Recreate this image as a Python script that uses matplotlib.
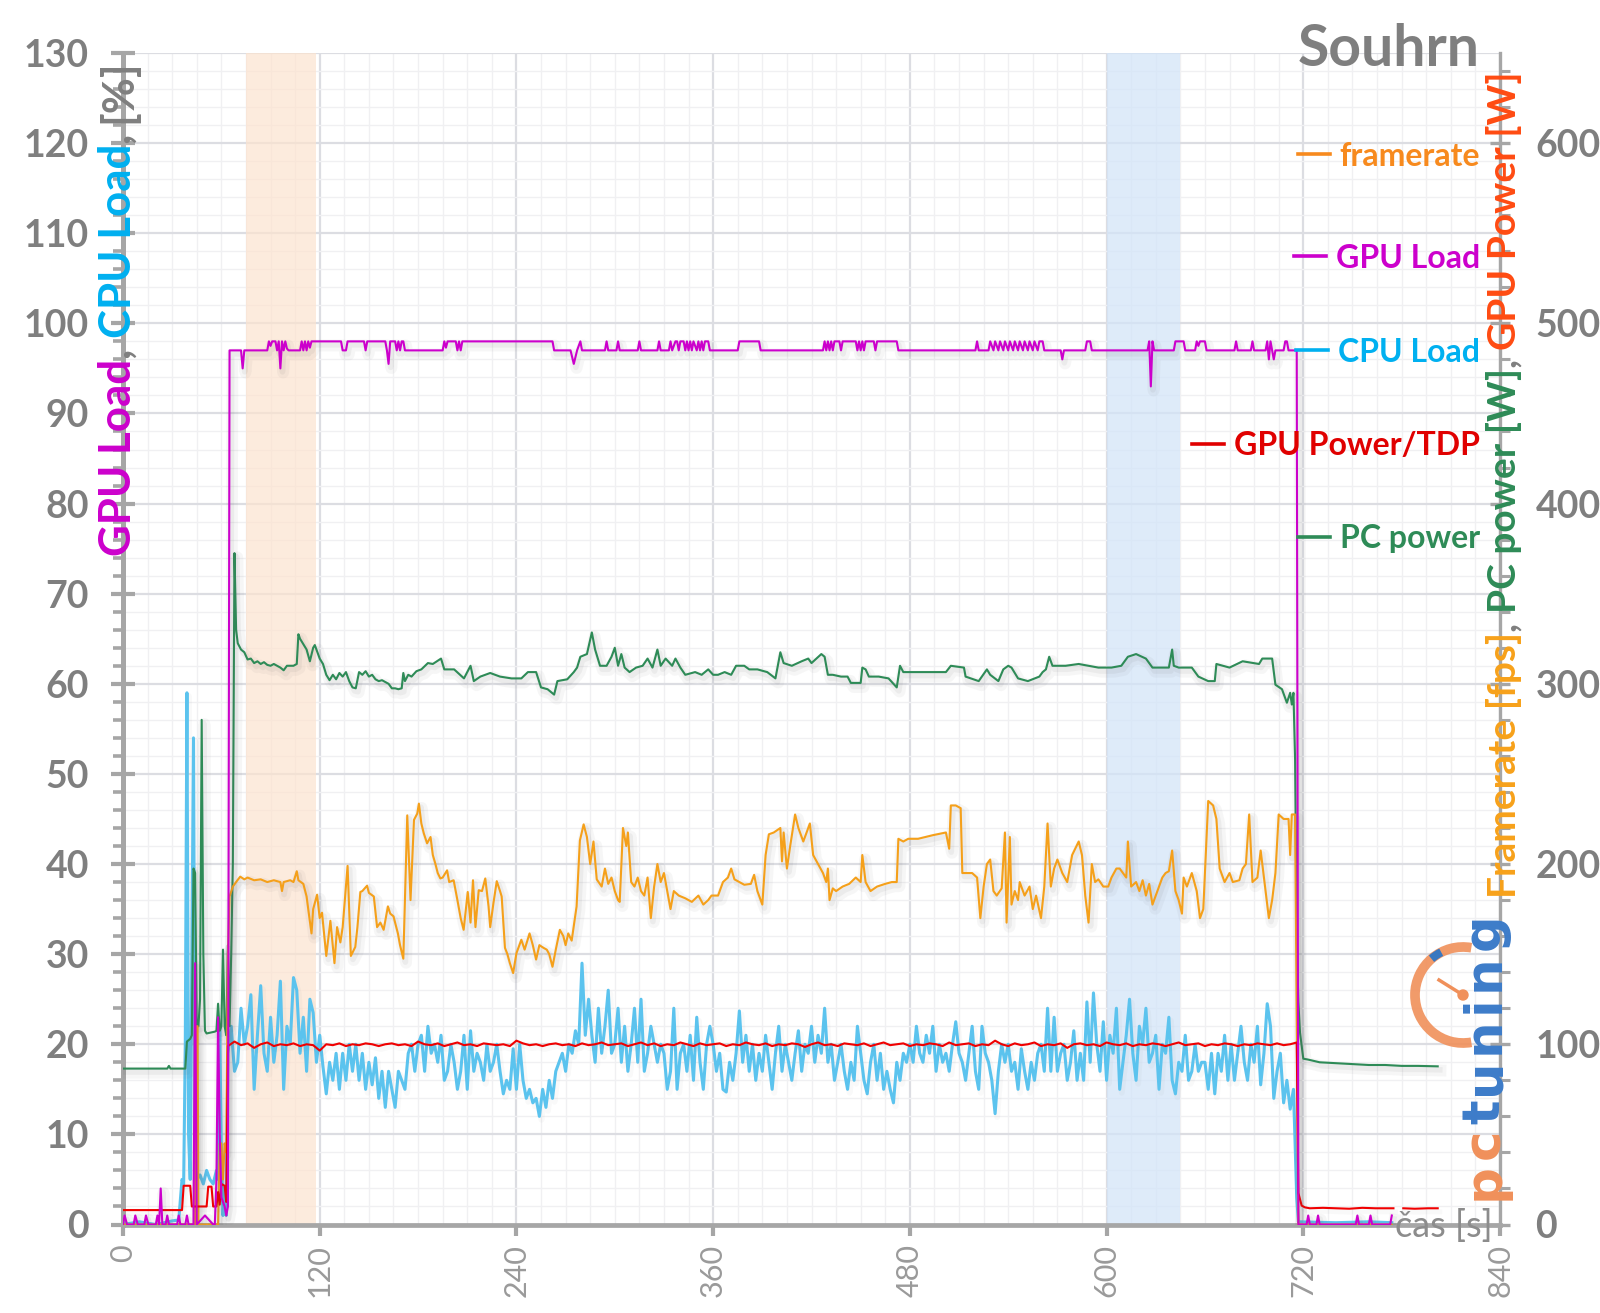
import numpy as np
import matplotlib
matplotlib.use("Agg")
import matplotlib.pyplot as plt
import matplotlib.patheffects as pe
from matplotlib.ticker import MultipleLocator
from matplotlib.lines import Line2D
from matplotlib.patches import Arc, Circle
from matplotlib.transforms import IdentityTransform

plt.rcParams['font.family'] = ['Lato', 'DejaVu Sans']

# ---------------- data (left-axis scale; right axis = 5x) ----------------
x_ticks = [0, 120, 240, 360, 480, 600, 720, 840]
y_left_ticks = list(range(0, 131, 10))
y_right_ticks = list(range(0, 601, 100))
band_orange = (75, 118)
band_blue = (600, 645)

gpu_load_pts = [
    (0, 0), (1, 1), (2.5, 0), (6.5, 0), (7.5, 1), (9, 0), (13, 0), (14, 1), (15.5, 0), (20, 0), (21, 1),
    (22, 0), (23, 4), (24, 0), (26, 0), (27, 1), (28, 0), (33, 0), (34, 1), (35, 0), (38, 0), (39, 1),
    (40, 0), (43, 0), (44, 29), (45, 0), (50, 1), (55, 0), (56, 0), (57, 5), (58, 23), (59, 10), (60, 3),
    (62, 2), (63, 1), (64, 2), (65, 97), (72, 97), (73, 95), (74, 97), (88, 97), (89, 98), (90, 97.5),
    (91, 98), (93, 98), (94, 97), (95, 98), (96, 95), (97, 98), (98, 97), (99, 98), (100, 97.2), (101, 97),
    (108, 97), (109, 98), (110, 97), (111, 98), (112, 97), (113, 98), (114, 97.3), (115, 98), (133, 98),
    (134, 97), (136, 97), (137, 98), (147, 98), (148, 97), (149, 98), (160, 98), (161, 97), (162, 95.5),
    (163, 98), (166, 98), (167, 97), (168, 98), (169, 97), (170, 98), (171, 98), (172, 97), (195, 97),
    (196, 98), (197, 97.3), (198, 98), (203, 98), (204, 97), (205, 98), (206, 97), (207, 98), (262, 98),
    (263, 97), (273, 97), (275, 95.5), (277, 97), (279, 98), (280, 97), (294, 97), (295, 98), (296, 97),
    (301, 97), (302, 98), (303, 97), (314, 97), (315, 98), (316, 97), (326, 97), (327, 98), (328, 97),
    (333, 97), (334, 98), (335, 97), (337, 98), (338, 98), (339, 97), (340, 98), (342, 98), (343, 97),
    (344, 98), (345, 97), (346, 98), (347, 97), (348, 98), (350, 97), (351, 98), (352, 97), (353, 98),
    (354, 97), (355, 98), (357, 98), (358, 97), (375, 97), (376, 98), (388, 98), (389, 97), (427, 97),
    (428, 98), (429, 97), (430, 98), (431, 97), (432, 98), (433, 97), (434, 98), (437, 98), (438, 97),
    (439, 98), (447, 98), (448, 97), (449, 98), (450, 97), (451, 98), (452, 97), (453, 98), (458, 98),
    (459, 97), (460, 98), (472, 98), (473, 97), (520, 97), (521, 98), (522, 97), (528, 97), (529, 98),
    (531, 97), (532, 98), (534, 97), (535, 98), (537, 97), (538, 98), (540, 97), (541, 98), (543, 97),
    (544, 98), (546, 97), (547, 98), (549, 97), (550, 98), (552, 97), (553, 98), (555, 97), (556, 98),
    (558, 97), (559, 98), (561, 98), (562, 97), (572, 97), (573, 96), (574, 97), (587, 97), (588, 98),
    (590, 98), (591, 97), (625, 97), (626, 98), (627, 93), (628, 98), (629, 97), (641, 97), (642, 98),
    (647, 98), (648, 97), (654, 97), (655, 98), (656, 97.5), (657, 98), (660, 98), (661, 97), (678, 97),
    (679, 98), (680, 97), (688, 97), (689, 98), (690, 97), (697, 97), (698, 98), (699, 96), (700, 98),
    (701, 97), (702, 96), (703, 97), (708, 97), (709, 98), (710, 98), (711, 97), (716, 97), (717, 0),
    (722, 0), (723, 1), (724, 0), (728, 0), (729, 1), (730, 0), (752, 0), (753, 1), (754, 0), (760, 0),
    (761, 1), (762, 0), (773, 0), (774, 1),
]

framerate_pts = [
    (0, 0), (44, 0), (44.5, 22), (45.5, 22), (46, 0), (58, 0), (59, 9), (60, 9), (61, 5), (62, 9), (63, 8),
    (64, 30), (65, 36.4), (67, 37.5), (69, 38), (71.5, 38.6), (74, 38.3), (76, 38.5), (80, 38.2), (84, 38.3),
    (88, 38), (92, 38.2), (96, 38), (97, 37), (98, 38), (102, 38.2), (104, 38), (106, 39.2), (107, 38.2),
    (110, 37.8), (112, 36.4), (113, 35), (115, 32.3), (116, 35), (118.4, 36.6), (120, 34), (121.4, 34.6),
    (124, 29.8), (126.5, 33.7), (129, 29), (130.6, 33), (132.6, 31.3), (134, 33), (137, 39.8), (139, 29.8),
    (141.7, 30.8), (143, 33), (144.8, 36.9), (146, 37), (148.9, 37.6), (150, 36.8), (153, 36.4), (155, 33),
    (157, 33.5), (159, 32.7), (161.6, 35.3), (163, 34.5), (165, 34.2), (167.7, 32.3), (169, 31), (171, 29.5),
    (173.4, 45.4), (175.4, 36), (177.5, 44.9), (179.5, 45.6), (180.5, 46.7), (182, 44.5), (183.5, 43.4),
    (185.5, 42.3), (187.6, 43), (189, 41), (190.6, 40), (192, 39), (193.6, 38.4), (195, 38.5), (197.7, 39.3),
    (199, 38), (201.7, 38.2), (204, 36), (206, 34), (207.8, 32.7), (210.3, 36.9), (212, 33.5), (213.5, 38.2),
    (215, 33), (217, 37.1), (219, 37), (221, 38.4), (223, 35.3), (224, 33), (226, 35.7), (228, 38.1),
    (230, 37), (231, 36.4), (233, 30.7), (234.5, 30), (236, 29), (238, 27.9), (240, 30.1), (243, 31.6),
    (245, 30.5), (248, 32.3), (250, 31), (252, 29.4), (254, 31), (256.5, 30.7), (258.5, 30.5), (260, 30),
    (262, 28.6), (264, 30.5), (266.5, 32.7), (268.6, 32), (270, 31), (271.6, 32.3), (273.7, 31.5),
    (276.7, 35.3), (278.7, 42.6), (281, 44.4), (283, 43), (285, 40), (287, 42.5), (289, 38.3), (292, 37.5),
    (294, 39.5), (296, 37.8), (298, 38.5), (300, 37), (302, 36), (303, 35.8), (305, 44), (307, 42),
    (308, 43.5), (310, 38), (312, 37.5), (314, 38.5), (316, 37), (318, 36.5), (320, 38.5), (322, 34),
    (324, 37.5), (326, 40), (328, 38), (330, 39), (332, 37), (334, 35), (336, 37), (339, 36.5), (343, 36.2),
    (347, 35.8), (351, 36.5), (354, 35.5), (357, 36), (359, 36.5), (363, 36.5), (366, 38), (369, 38.5),
    (371, 39.5), (373, 38.3), (376, 38), (379, 37.7), (383, 37.8), (385, 38.8), (387, 37), (390, 35.5),
    (392, 41), (394, 43.3), (397, 43.5), (401, 44), (402, 40.3), (403, 43.5), (405, 39.5), (407, 42),
    (410, 45.5), (412, 44), (415, 42.5), (417, 43.5), (419, 44.5), (421, 41), (424, 40), (427, 39),
    (429, 38), (430, 39.5), (431, 36), (433, 37.3), (435, 37), (439, 37.5), (443, 37.8), (447, 38.5),
    (450, 38), (451, 41), (453, 38), (456, 37), (460, 37.5), (465, 37.8), (469, 38), (472, 38), (473, 42.8),
    (476, 42.5), (479, 42.8), (485, 42.8), (494, 43.2), (502, 43.5), (504, 41.7), (505, 46.5), (508, 46.5),
    (511, 46.2), (512, 39), (518, 39), (521, 38.5), (523, 34), (525, 37.5), (527, 40), (529, 40.5),
    (531, 37), (533, 36.5), (536, 37.3), (538, 43.5), (539, 33.5), (541, 43), (542, 35.5), (544, 37),
    (546, 36), (547, 38), (550, 36.5), (553, 37.5), (555, 35), (557, 36.5), (560, 34), (562, 37.5),
    (564, 44.5), (566, 37.5), (568, 39.5), (570, 40.5), (573, 39), (576, 38), (579, 41), (583, 42.5),
    (585, 41), (587, 36.5), (589, 33.5), (591, 40), (593, 38), (595, 38.3), (598, 37.5), (601, 37.5),
    (603, 38.5), (606, 39.5), (608, 39.5), (612, 38.5), (613, 42.5), (615, 37.5), (618, 38), (620, 37),
    (622, 38.2), (624, 36.5), (626, 37.8), (628, 35.5), (630, 36.5), (632, 37.5), (634, 38.5), (636, 39),
    (638, 39.2), (640, 41.5), (642, 37), (644, 36), (646, 34.5), (647, 38.5), (649, 37.5), (652, 39),
    (655, 37), (657, 34), (659, 35), (662, 47), (665, 46.5), (667, 45), (669, 39.5), (672, 38), (675, 39),
    (677, 38), (681, 38.2), (683, 39.5), (685, 40), (687, 45.5), (689, 38), (692, 38.5), (694, 41.5),
    (696, 38.5), (699, 34), (701, 36), (703, 39), (705, 45.5), (708, 45), (711, 45), (712, 41), (713, 45.5),
    (715, 45.5), (717, 0), (774, 0),
]

pc_power_pts = [
    (0, 17.3), (27, 17.3), (28, 17.6), (29, 17.3), (38, 17.3), (39, 20.3), (41, 20.6), (42, 21), (43, 39.5),
    (44, 39), (45, 22), (46, 22), (47, 25), (48, 56), (49, 30), (50, 21.5), (51, 21.2), (56, 21.4), (57, 21.5),
    (58, 24.5), (59, 21.5), (60, 22), (61, 30.5), (62, 22), (63, 21), (64, 31), (65, 22), (66, 30), (67, 40),
    (68, 74.5), (69, 66), (70, 64.5), (72, 63.8), (74, 63.5), (76, 62.7), (78, 62.8), (80, 62.3), (82, 62.5),
    (84, 62.2), (86, 62.4), (88, 62.1), (90, 62), (92, 62.2), (94, 62), (96, 61.8), (98, 61.5), (100, 62),
    (104, 62), (106, 62.2), (107, 65.5), (108, 65), (112, 63.8), (114, 62.5), (116, 64), (117, 64.3),
    (120, 62.8), (122, 62.2), (124, 61), (126, 60.4), (128, 61), (130, 60.5), (132, 61.2), (134, 60.8),
    (136, 61.3), (138, 60.3), (140, 59.6), (142, 59.5), (144, 61.3), (146, 61), (148, 61.4), (150, 60.8),
    (152, 61), (154, 60.5), (156, 60.3), (158, 60.4), (160, 60.2), (162, 60), (164, 59.5), (166, 59.5),
    (168, 59.4), (170, 59.5), (171, 61.2), (172, 60.3), (174, 61), (176, 60.8), (179, 61.4), (182, 61.6),
    (186, 62.3), (189, 62.2), (194, 62.8), (196, 61.6), (202, 61.6), (208, 60.6), (212, 62), (214, 60.3),
    (218, 60.8), (224, 61.2), (230, 60.8), (237, 60.6), (243, 60.6), (247, 61.3), (252, 61.3), (255, 59.6),
    (259, 59.4), (263, 58.8), (265, 60.3), (271, 60.5), (275, 61.3), (277, 61.8), (279, 63), (283, 63.3),
    (286, 65.7), (288, 63.8), (291, 62), (295, 62), (298, 63), (300, 64), (302, 62), (304, 63.3),
    (306, 61.8), (309, 61.3), (313, 61.8), (317, 62), (320, 62.8), (323, 61.8), (326, 63.8), (328, 62),
    (331, 62.8), (335, 62), (337, 62.8), (340, 61.8), (343, 61), (349, 61.3), (353, 61), (357, 61.6),
    (360, 61), (363, 61), (367, 61.3), (371, 61), (374, 62), (379, 62), (382, 61.6), (387, 61.6),
    (393, 61.3), (398, 60.6), (401, 63.5), (403, 62.3), (408, 62), (414, 62.5), (418, 62.8), (420, 62.3),
    (426, 63.3), (428, 63), (430, 61), (433, 61), (438, 60.8), (442, 60.8), (444, 60.1), (450, 60.1),
    (451, 61.8), (453, 61.6), (455, 60.8), (461, 60.8), (467, 60.6), (472, 59.6), (474, 62), (476, 61.3),
    (485, 61.3), (494, 61.3), (502, 61.3), (505, 62), (513, 61.8), (514, 60.8), (522, 60.3), (527, 61.6),
    (529, 61), (534, 60.3), (537, 61.6), (540, 62), (542, 61.8), (546, 60.6), (552, 60.3), (559, 60.8),
    (561, 61.3), (563, 61.6), (565, 63), (567, 62), (575, 62), (583, 62.2), (589, 62), (595, 61.8),
    (603, 61.8), (609, 62), (613, 63), (618, 63.3), (624, 62.8), (628, 61.8), (632, 61.8), (638, 61.8),
    (640, 63.8), (641, 62), (644, 61.8), (652, 61.8), (656, 60.8), (662, 60.3), (666, 60.3), (667, 62.2),
    (675, 61.8), (683, 62.5), (693, 62.2), (695, 62.8), (701, 62.8), (703, 59.9), (707, 59.4), (710, 57.9),
    (712, 59), (713, 57.7), (714, 59), (715, 51.6), (716, 32), (717, 24.7), (718, 21.3), (720, 18.4),
    (723, 18.3), (730, 18), (740, 17.9), (750, 17.8), (760, 17.7), (770, 17.7), (780, 17.6), (790, 17.6),
    (802, 17.55),
]

cpu_early_pts = [
    (0, 0), (10, 0.3), (20, 0), (30, 0.4), (34, 0.5), (36, 5), (37, 4.5), (38, 20), (39, 59), (40, 10),
    (41, 5), (42, 30), (43, 54), (44, 8), (45, 5), (47, 5.5), (49, 4.5), (51, 6), (53, 5), (55, 4.5),
    (57, 6), (58, 5), (59, 22), (60, 8), (61, 1), (62, 4), (63, 1),
]
cpu_active_t0, cpu_active_step = 64, 2
cpu_active = [
    19, 22, 17, 18, 24, 20, 22, 25.5, 15, 21, 26.5, 19, 17, 23, 18, 21, 27, 15, 22, 20, 27.4, 26, 19, 23, 17, 25, 23.5, 18,
    21, 17.5, 14.5, 18, 16, 19, 15, 19, 16, 20, 17, 20, 16, 19, 15, 18, 15.5, 18.5, 14, 17, 13, 17, 15, 13, 17, 16, 15, 19, 20, 17,
    20, 21, 17, 22, 19, 20, 18, 21, 16, 17, 20, 18, 15, 17, 21, 15, 21.5, 17, 19, 18, 16, 20, 17, 18, 20, 17, 14.5, 16, 15, 19.5,
    15, 20, 16, 14, 15, 13.5, 14, 12, 15, 13, 16, 14, 17, 18, 19, 17, 20, 19, 21.5, 20, 29, 21, 25, 21, 18, 24, 19, 22, 26, 19,
    20, 24, 18, 22, 17, 20, 24, 18, 25, 17, 19, 22, 20, 18, 20, 19, 15, 17, 24, 15, 19, 20, 17, 21, 16, 23, 18, 15, 20, 22,
    20, 17, 19, 15, 14.7, 18, 16, 19, 23.7, 18, 21, 17, 20, 16, 19, 17, 21, 18, 15, 19, 22, 17, 20, 18, 16, 19, 21.5, 17, 20, 19,
    22, 18, 21, 19, 24, 18, 20, 16, 18, 20, 17, 15, 18, 16, 22, 19, 16, 14.5, 18, 20, 16, 19, 15, 17, 15, 13.5, 18, 16, 19, 18,
    20, 18, 22, 19, 18, 21, 19, 22, 17, 20, 18, 19, 17, 20, 22.5, 19, 18, 16, 19, 22, 17, 15, 22, 19, 18, 16, 12.3, 17, 20, 18,
    20, 17, 18, 15, 19.5, 17, 15, 18, 16, 19, 20, 17, 24, 17, 23, 17, 19, 20, 16, 18, 21.5, 16, 19, 16, 24.7, 18, 25.7, 20, 17, 22.5,
    16, 21, 19, 24, 15, 18, 21, 25, 19, 16, 22, 20, 24, 18, 19, 21, 15, 20, 19, 23, 16, 14.5, 18, 17, 21, 16, 17, 20, 17, 18,
    18, 15, 19, 14.5, 19, 17, 21, 16, 20, 16, 19, 22, 18, 16, 20, 18, 22, 15.5, 19, 24.5, 22, 14, 17, 19, 13.5, 16, 12.8, 15,
]
cpu_tail_pts = [(716, 3), (717, 0.3), (740, 0.2), (760, 0.3), (774, 0.2)]

gpu_power_early_pts = [
    (0, 1.6), (36, 1.6), (37, 4.3), (41, 4.3), (42, 2.0), (51, 2.0), (52, 4.2), (54, 4.2), (55, 2.0),
    (57, 2.0), (58, 3.6), (59, 2.2), (60, 4.5), (62, 4.3), (63, 2.5),
]
gpu_power_active_t0, gpu_power_active_step = 64, 4
gpu_power_active = [
    19.8, 20.3, 19.9, 20.1, 19.6, 20.0, 20.2, 19.8, 20.0, 19.9, 20.1, 19.8, 20.0, 19.9, 19.3, 20.0,
    19.9, 20.1, 19.8, 20.0, 19.9, 20.1, 20.0, 19.8, 20.0, 20.1, 19.9, 20.0, 19.8, 20.3, 20.0, 19.9,
    20.1, 19.8, 20.0, 20.2, 19.9, 20.0, 19.8, 20.1, 20.0, 19.9, 20.0, 19.8, 20.4, 20.1, 19.9, 20.0,
    19.8, 20.0, 20.1, 19.9, 20.0, 19.8, 20.1, 19.9, 20.0, 20.2, 19.9, 20.0, 20.1, 19.8, 20.0, 20.2,
    19.9, 20.1, 19.8, 20.0, 19.9, 20.2, 20.0, 19.8, 20.1, 19.9, 20.0, 20.1, 19.8, 20.0, 19.9, 20.2,
    20.0, 19.9, 20.1, 19.8, 20.0, 19.9, 20.1, 20.0, 19.7, 20.0, 20.2, 19.9, 20.0, 19.8, 20.1, 20.0,
    19.9, 20.1, 19.8, 20.0, 20.2, 19.9, 20.0, 20.1, 19.8, 20.0, 19.9, 20.1, 20.0, 19.8, 20.2, 19.9,
    20.0, 20.1, 19.8, 20.0, 19.9, 20.4, 20.0, 19.8, 20.1, 19.9, 20.0, 20.2, 19.8, 20.0, 19.9, 20.1,
    19.6, 20.0, 20.1, 19.9, 20.0, 19.8, 20.2, 20.0, 19.9, 20.1, 19.8, 20.0, 19.9, 20.1, 20.0, 19.8,
    20.0, 20.2, 19.9, 20.0, 20.1, 19.8, 20.0, 19.9, 20.1, 20.0, 19.8, 20.0, 19.9, 20.1, 20.0, 19.9,
    20.1, 19.9, 20.0, 20.2,
]
gpu_power_tail_pts = [
    (717, 3.5), (719, 2.1), (721, 1.9), (724, 1.8), (732, 1.85), (740, 1.8), (748, 1.75), (756, 1.85),
    (764, 1.8), (772, 1.8), (775, 1.8), (776, np.nan), (781, 1.8), (788, 1.75), (796, 1.8), (802, 1.8),
]

legend_labels = ["framerate", "GPU Load", "CPU Load", "GPU Power/TDP", "PC power"]

# ---------------- styling ----------------
C_GPU = '#CC00CC'
C_CPU = '#5BC3EE'
C_RED = '#F00000'
C_PC = '#2E8B57'
C_FPS = '#F5A01A'
GRAY = '#7F7F7F'
SPINE = '#A6A6A6'

W, H = 1600, 1313
fig = plt.figure(figsize=(W / 100, H / 100), dpi=100)
X0, X1 = 123, 1500
Y0, Y1 = 1224.5, 53
ax = fig.add_axes([X0 / W, 1 - Y0 / H, (X1 - X0) / W, (Y0 - Y1) / H])
ax.set_xlim(0, 840)
ax.set_ylim(0, 130)
ax.set_axisbelow(True)

ax.set_xticks(x_ticks)
ax.xaxis.set_minor_locator(MultipleLocator(15))
ax.set_yticks(y_left_ticks)
ax.yaxis.set_minor_locator(MultipleLocator(2))
ax.grid(which='major', color='#DCDDE2', lw=1.6)
ax.grid(which='minor', color='#F0F0F2', lw=1.0)

ax.axvspan(*band_orange, color='#FCE3CF', alpha=0.7, lw=0, zorder=0.8)
ax.axvspan(*band_blue, color='#D3E5F8', alpha=0.75, lw=0, zorder=0.8)

for s in ['top', 'right']:
    ax.spines[s].set_visible(False)
ax.spines['left'].set_color(SPINE)
ax.spines['left'].set_linewidth(3.6)
ax.spines['bottom'].set_color(SPINE)
ax.spines['bottom'].set_linewidth(3.4)

ax.tick_params(axis='y', which='major', direction='inout', length=17, width=3, color=SPINE,
               labelsize=27, labelcolor=GRAY, pad=16)
ax.tick_params(axis='y', which='minor', direction='out', length=7, width=2.6, color=SPINE)
ax.tick_params(axis='x', which='major', direction='out', length=8, width=3, color=SPINE,
               labelsize=22, labelcolor='#9A9A9A', pad=6, labelrotation=90)
ax.tick_params(axis='x', which='minor', length=0)
for lab in ax.get_yticklabels():
    lab.set_fontweight('bold')

ax2 = ax.twinx()
ax2.set_ylim(0, 650)
ax2.set_yticks(y_right_ticks)
ax2.yaxis.set_minor_locator(MultipleLocator(20))
for s in ['top', 'left', 'bottom']:
    ax2.spines[s].set_visible(False)
ax2.spines['right'].set_color(SPINE)
ax2.spines['right'].set_linewidth(2.4)
ax2.tick_params(axis='y', which='major', direction='inout', length=15, width=2.4, color=SPINE,
                labelsize=27, labelcolor=GRAY, pad=18)
ax2.tick_params(axis='y', which='minor', direction='out', length=7, width=2.2, color=SPINE)
for lab in ax2.get_yticklabels():
    lab.set_fontweight('bold')


def shadow(lw, strong=True):
    if strong:
        return [pe.SimpleLineShadow(offset=(2, -3), shadow_color='#606060', alpha=0.05, linewidth=lw + 7),
                pe.SimpleLineShadow(offset=(1.5, -2.5), shadow_color='#606060', alpha=0.07, linewidth=lw + 2.5),
                pe.Normal()]
    return [pe.SimpleLineShadow(offset=(1.5, -2.5), shadow_color='#606060', alpha=0.035, linewidth=lw + 2),
            pe.Normal()]


def split(pts):
    t, v = zip(*pts)
    return np.array(t, float), np.array(v, float)


cpu_t0, cpu_v0 = split(cpu_early_pts)
cpu_t1 = np.arange(len(cpu_active)) * cpu_active_step + cpu_active_t0
cpu_t2, cpu_v2 = split(cpu_tail_pts)
cpu_t = np.concatenate([cpu_t0, cpu_t1, cpu_t2])
cpu_v = np.concatenate([cpu_v0, np.array(cpu_active, float), cpu_v2])

gp_t0, gp_v0 = split(gpu_power_early_pts)
gp_t1 = np.arange(len(gpu_power_active)) * gpu_power_active_step + gpu_power_active_t0
gp_t2, gp_v2 = split(gpu_power_tail_pts)
gp_t = np.concatenate([gp_t0, gp_t1, gp_t2])
gp_v = np.concatenate([gp_v0, np.array(gpu_power_active, float), gp_v2])

pc_t, pc_v = split(pc_power_pts)
fps_t, fps_v = split(framerate_pts)
gl_t, gl_v = split(gpu_load_pts)

ax.plot(cpu_t, cpu_v, color=C_CPU, lw=2.2, zorder=3, path_effects=shadow(2.2, strong=False))
ax.plot(pc_t, pc_v, color=C_PC, lw=1.5, zorder=4, path_effects=shadow(1.5))
ax.plot(fps_t, fps_v, color=C_FPS, lw=1.5, zorder=4, path_effects=shadow(1.5))
ax.plot(gp_t, gp_v, color=C_RED, lw=1.5, zorder=5, path_effects=shadow(1.5, strong=False))
ax.plot(gl_t, gl_v, color=C_GPU, lw=1.5, zorder=6, path_effects=shadow(1.5))

# ---------------- texts ----------------
renderer = fig.canvas.get_renderer()
IT = IdentityTransform()


def text_width(s, size, weight, family=None):
    kw = {} if family is None else {'family': family}
    a = fig.text(0, 0, s + '|', fontsize=size, fontweight=weight, **kw)
    b = fig.text(0, 0, '|', fontsize=size, fontweight=weight, **kw)
    w = a.get_window_extent(renderer).width - b.get_window_extent(renderer).width
    a.remove()
    b.remove()
    return w


def vtext_fit(x_px, y_bottom, y_top, parts, weight='bold'):
    total = sum(text_width(s, 20, weight) for s, _ in parts)
    size = 20 * (y_bottom - y_top) / total
    y = y_bottom
    for s, c in parts:
        fig.text(x_px / W, 1 - y / H, s, rotation=90, rotation_mode='anchor', ha='left',
                 va='baseline', color=c, fontsize=size, fontweight=weight, zorder=2)
        y -= text_width(s, size, weight)


def vtext_spaced(x_px, y_bottom, y_top, parts, size, weight='normal', family=None):
    kw = {} if family is None else {'family': family}
    chars = [(ch, c) for s, c in parts for ch in s]
    widths = [text_width(ch, size, weight, family) for ch, _ in chars]
    extra = ((y_bottom - y_top) - sum(widths)) / (len(chars) - 1)
    y = y_bottom
    for (ch, c), w in zip(chars, widths):
        fig.text(x_px / W, 1 - y / H, ch, rotation=90, rotation_mode='anchor', ha='left',
                 va='baseline', color=c, fontsize=size, fontweight=weight, zorder=2, **kw)
        y -= w + extra


vtext_fit(131, 556, 58, [("GPU Load", C_GPU), (", ", GRAY), ("CPU Load", '#00B0F0'), (", ", GRAY),
                         ("[%]", GRAY)])
vtext_fit(1516, 898, 72, [("Framerate [fps]", '#F7A11A'), (", ", GRAY), ("PC power [W]", '#2E8B57'),
                          (", ", GRAY), ("GPU Power [W]", '#FF4B12')])

fig.text(1480 / W, 1 - 66 / H, "Souhrn", ha='right', va='baseline', fontsize=41,
         fontweight='bold', color=GRAY)

leg_colors = ['#F78A1E', C_GPU, '#00B0F0', '#E00000', '#2E8B57']
leg_y = [156, 258, 352, 446, 539]
for lab, cl, yy in zip(legend_labels, leg_colors, leg_y):
    fig.text(1480 / W, 1 - yy / H, lab, ha='right', va='center', fontsize=23, fontweight='bold', color=cl)
    w = text_width(lab, 23, 'bold')
    xe = 1480 - w - 10
    fig.add_artist(Line2D([xe - 32, xe], [H - yy + 2, H - yy + 2], transform=IT, color=cl, lw=2.6))

fig.text(1493 / W, 1 - 1237 / H, "čas [s]", ha='right', va='baseline', fontsize=26, color='#8C8C8C')

# pctuning logo
cx, cy, r = 1463, H - 995, 48
fig.add_artist(Arc((cx, cy), 2 * r, 2 * r, theta1=80, theta2=280, transform=IT, color='#F0905A', lw=7, alpha=0.9))
fig.add_artist(Arc((cx, cy), 2 * r, 2 * r, theta1=117, theta2=131, transform=IT, color='#3A78C0', lw=6))
fig.add_artist(Line2D([cx, cx - 24], [cy, cy + 15], transform=IT, color='#F0905A', lw=2.5))
fig.add_artist(Circle((cx, cy), 5, transform=IT, color='#F0905A'))
vtext_spaced(1499, 1200, 913, [("pc", '#F0905A'), ("tuning", '#3D7CC9')], 37, weight='bold',
             family='DejaVu Sans')

fig.savefig("out.png", dpi=100)
